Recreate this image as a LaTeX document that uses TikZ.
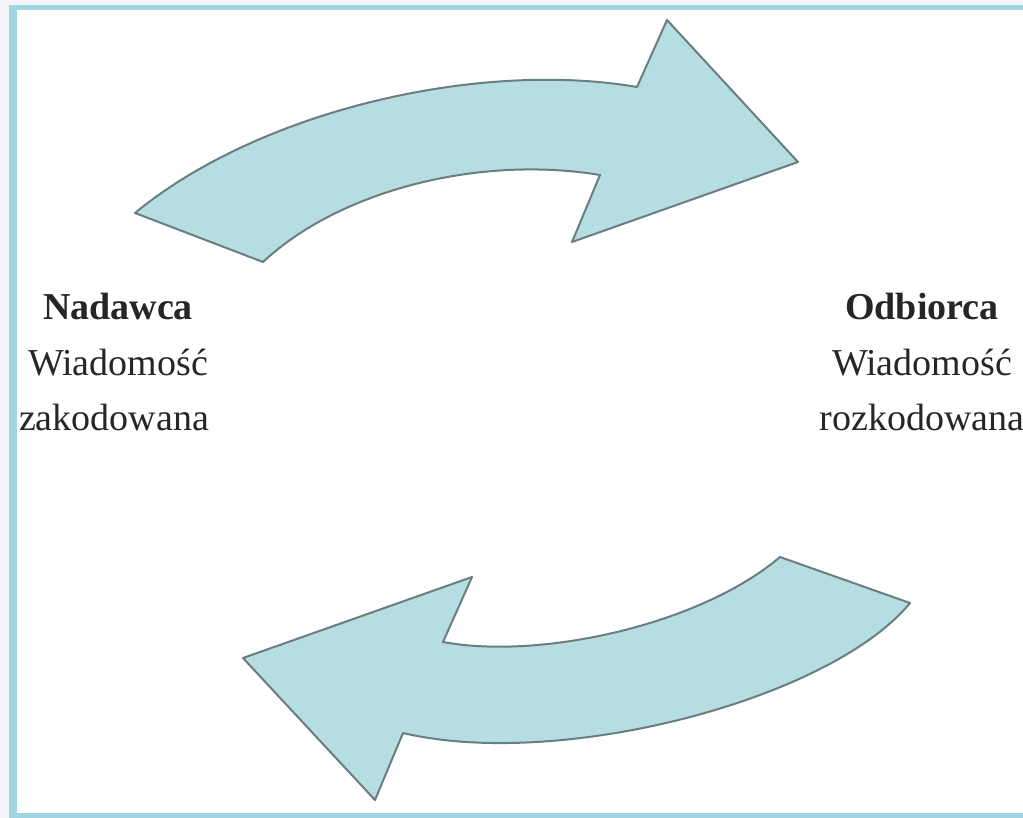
\documentclass[tikz,border=0pt]{standalone}
\usepackage{fontspec}
\setmainfont{Liberation Serif}
\definecolor{arrowfill}{RGB}{182,222,226}
\definecolor{arrowline}{RGB}{105,125,130}
\definecolor{framecol}{RGB}{160,214,228}
\definecolor{outerbg}{RGB}{242,244,247}
\tikzset{
  bigarrow/.style={fill=arrowfill, draw=arrowline, line width=2pt, line join=round},
  labeltext/.style={font=\fontsize{38}{40}\selectfont, text=black!85, inner sep=0pt, anchor=base},
}
\begin{document}
\begin{tikzpicture}[x=1pt,y=-1pt]
\useasboundingbox (0,0) rectangle (1023,818);
% background and frame
\fill[outerbg] (0,0) rectangle (1023,818);
\fill[framecol] (9,5) rectangle (1023,818);
\fill[white] (17,10) rectangle (1023,813);
% top arrow
\path[bigarrow] (135,213) .. controls (260,110) and (480,60) .. (637,87)
  -- (667,20) -- (798,162) -- (572,242) -- (600,175)
  .. controls (480,155) and (340,190) .. (263,262) -- cycle;
% bottom arrow
\path[bigarrow] (910,603) .. controls (830,700) and (560,770) .. (403,733)
  -- (375,800) -- (243,658) -- (472,577) -- (443,642)
  .. controls (540,660) and (700,625) .. (780,557) -- cycle;
% labels
\node[labeltext, font=\fontsize{38}{40}\selectfont\bfseries] (nad) at (118,320) {Nadawca};
\node[labeltext] (wl) at (118,375) {Wiadomość};
\node[labeltext] (zak) at (114,430) {zakodowana};
\node[labeltext, font=\fontsize{38}{40}\selectfont\bfseries] (odb) at (922,320) {Odbiorca};
\node[labeltext] (wr) at (922,375) {Wiadomość};
\node[labeltext] (roz) at (922,430) {rozkodowana};
\end{tikzpicture}
\end{document}
